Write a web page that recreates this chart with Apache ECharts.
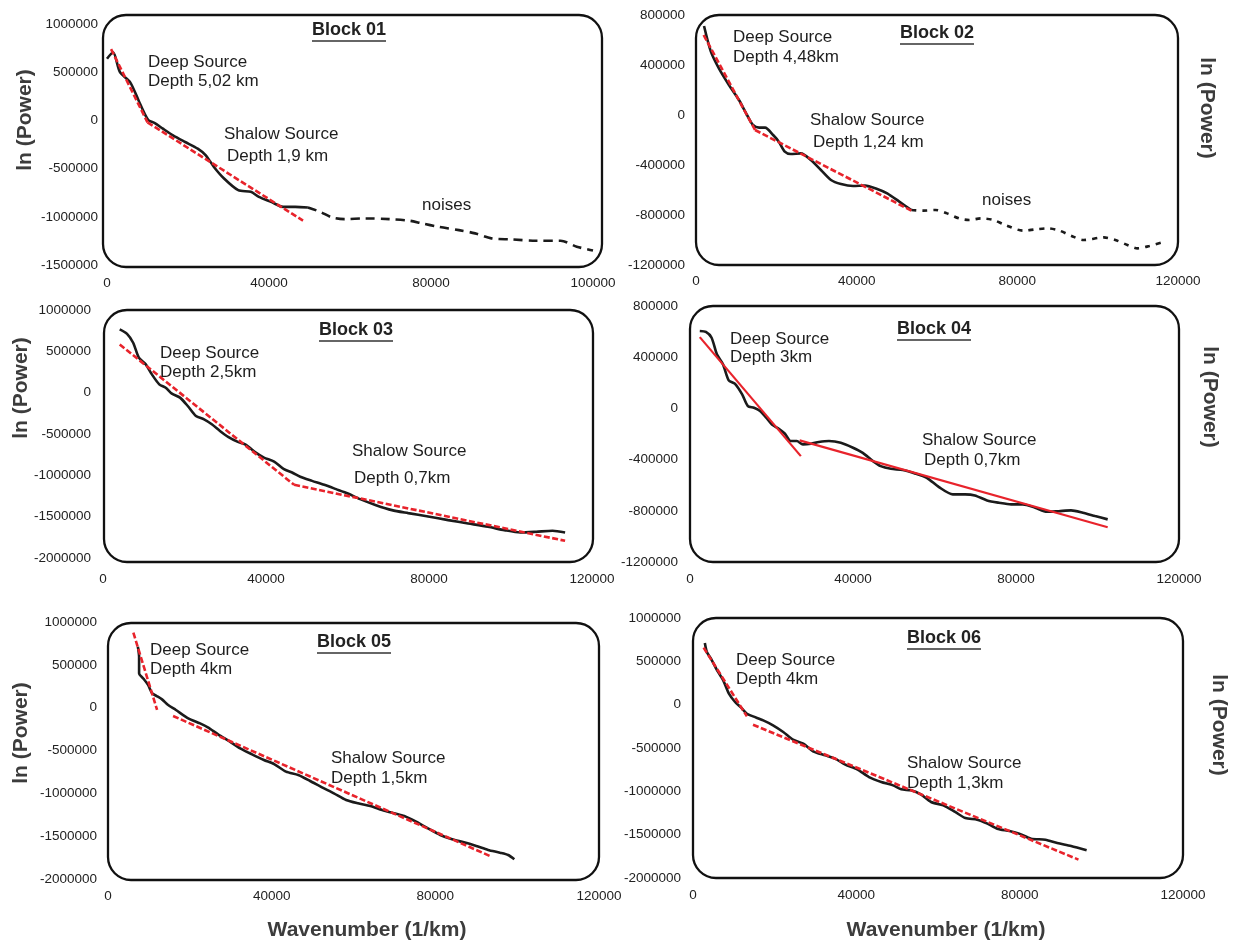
<!DOCTYPE html>
<html>
<head>
<meta charset="utf-8">
<script src="https://cdn.jsdelivr.net/npm/echarts@6/dist/echarts.min.js"></script>
<style>
  html, body { margin: 0; padding: 0; background: #fff; }
  #chart { width: 1233px; height: 942px; }
</style>
</head>
<body>
<div id="chart"></div>
<script>
// ---- Tick labels -------------------------------------------------------
const xTicks01 = ['0', '40000', '80000', '100000'];
const xTicksStd = ['0', '40000', '80000', '120000'];

// ---- Block 01 ----------------------------------------------------------
const b01Spectrum = [[0,640000],[1500,707000],[3200,500000],[5700,397000],[7800,207000],[9300,69000],[10300,0],[11800,-28000],[13800,-86000],[16300,-155000],[19300,-224000],[22400,-293000],[24400,-362000],[26400,-483000],[28900,-603000],[32400,-724000],[35500,-741000],[37500,-793000],[40500,-845000],[43500,-897000],[46500,-897000],[49600,-903000]];
const b01Noise = [[49600,-903000],[52600,-948000],[55600,-1007000],[58600,-1024000],[63700,-1017000],[69700,-1024000],[74800,-1041000],[77800,-1069000],[81800,-1103000],[86900,-1138000],[90900,-1172000],[94900,-1224000],[99900,-1234000],[106000,-1248000],[112000,-1248000],[116000,-1310000],[120000,-1350000]];
const b01Deep = [[1000,740000],[10000,-20000]];
const b01Shallow = [[10000,-20000],[48400,-1040000]];

// ---- Block 02 ----------------------------------------------------------
const b02Spectrum = [[2000,712000],[3700,507000],[5700,373000],[8200,240000],[10700,120000],[12700,0],[14200,-80000],[15700,-101000],[17200,-101000],[19200,-160000],[20600,-213000],[22100,-293000],[23600,-312000],[26100,-307000],[28600,-360000],[31100,-440000],[33600,-520000],[36100,-552000],[39100,-568000],[42100,-565000],[45100,-592000],[47600,-627000],[50600,-693000],[53600,-760000]];
const b02Noise = [[53600,-760000],[56600,-765000],[59600,-760000],[62500,-787000],[65500,-827000],[68000,-840000],[71000,-827000],[74000,-840000],[77000,-880000],[81500,-925000],[84500,-915000],[87500,-907000],[90500,-925000],[93500,-968000],[96500,-1000000],[101500,-979000],[104400,-1000000],[107400,-1040000],[109900,-1067000],[112900,-1048000],[115900,-1021000]];
const b02Deep = [[1900,640000],[14700,-120000]];
const b02Shallow = [[14700,-120000],[53600,-765000]];

// ---- Block 03 ----------------------------------------------------------
const b03Spectrum = [[4100,765000],[5900,712000],[7400,604000],[8800,423000],[10500,342000],[12000,221000],[13800,101000],[15400,60000],[16900,-12000],[18900,-60000],[20800,-161000],[22800,-282000],[24800,-322000],[26700,-382000],[28700,-463000],[30700,-535000],[33100,-596000],[35100,-632000],[37500,-725000],[39500,-785000],[42000,-833000],[44400,-926000],[46400,-966000],[48400,-1018000],[51300,-1067000],[54300,-1115000],[57200,-1167000],[60100,-1220000],[63100,-1288000],[67000,-1361000],[70900,-1421000],[74900,-1457000],[79800,-1498000],[84700,-1542000],[89600,-1582000],[94500,-1622000],[98500,-1663000],[102400,-1691000],[106300,-1683000],[110300,-1671000],[113400,-1691000]];
const b03Deep = [[4100,584000],[46900,-1115000]];
const b03Shallow = [[46900,-1115000],[113400,-1792000]];

// ---- Block 04 ----------------------------------------------------------
const b04Spectrum = [[2400,605000],[3900,597000],[5300,552000],[6600,422000],[8100,344000],[9500,219000],[11000,193000],[12800,109000],[14200,18000],[15700,5000],[17200,-21000],[18700,-73000],[20100,-125000],[21800,-159000],[23300,-198000],[24700,-255000],[26200,-255000],[27700,-281000],[29700,-276000],[31600,-263000],[34100,-255000],[37000,-268000],[40000,-307000],[42400,-347000],[44900,-412000],[46800,-451000],[49300,-472000],[52200,-482000],[55200,-508000],[58100,-542000],[61100,-615000],[64500,-672000],[67500,-672000],[69900,-680000],[72900,-719000],[75800,-737000],[78800,-750000],[81700,-750000],[84700,-776000],[87600,-808000],[90500,-803000],[93500,-797000],[96400,-815000],[99400,-841000],[102500,-867000]];
const b04Deep = [[2400,557000],[27200,-373000]];
const b04Shallow = [[26900,-250000],[102500,-928000]];

// ---- Block 05 ----------------------------------------------------------
const b05Spectrum = [[7300,712000],[7600,595000],[7600,401000],[8800,331000],[9800,265000],[10800,167000],[11900,136000],[13200,97000],[14700,31000],[16600,-27000],[19600,-125000],[22500,-183000],[24400,-230000],[26900,-311000],[29800,-397000],[32300,-475000],[35200,-545000],[38100,-611000],[40600,-658000],[43500,-747000],[46500,-786000],[49400,-856000],[52300,-930000],[55200,-1000000],[58200,-1078000],[61100,-1117000],[64100,-1148000],[67000,-1195000],[69900,-1233000],[72400,-1265000],[75300,-1331000],[78200,-1409000],[81200,-1486000],[84100,-1537000],[87000,-1572000],[90000,-1615000],[92900,-1661000],[95800,-1693000],[97800,-1720000],[99300,-1770000]];
const b05Deep = [[6200,875000],[12000,-27000]];
const b05Shallow = [[15900,-97000],[93700,-1739000]];

// ---- Block 06 ----------------------------------------------------------
const b06Spectrum = [[2900,712000],[3400,608000],[4400,531000],[5900,396000],[7400,281000],[8800,127000],[10300,31000],[11800,-35000],[13200,-104000],[14700,-135000],[17200,-181000],[19600,-238000],[22100,-315000],[24500,-404000],[27000,-450000],[29400,-538000],[32400,-585000],[34800,-623000],[37300,-692000],[40200,-746000],[43100,-835000],[46100,-892000],[49000,-931000],[51000,-977000],[53400,-988000],[55900,-1038000],[58300,-1123000],[61300,-1162000],[64200,-1238000],[66700,-1308000],[69600,-1327000],[72100,-1373000],[74500,-1431000],[77500,-1458000],[79900,-1488000],[82800,-1546000],[86300,-1558000],[89200,-1596000],[92600,-1631000],[96400,-1681000]];
const b06Deep = [[2600,658000],[13200,-135000]];
const b06Shallow = [[14700,-231000],[94400,-1788000]];

// ---- Texts ------------------------------------------------------------
const blockTitles = ['Block 01', 'Block 02', 'Block 03', 'Block 04', 'Block 05', 'Block 06'];
const deepTexts = [
  ['Deep Source', 'Depth 5,02 km'], ['Deep Source', 'Depth 4,48km'], ['Deep Source', 'Depth 2,5km'],
  ['Deep Source', 'Depth 3km'], ['Deep Source', 'Depth 4km'], ['Deep Source', 'Depth 4km']
];
const shallowTexts = [
  ['Shalow Source', 'Depth 1,9 km'], ['Shalow Source', 'Depth 1,24 km'], ['Shalow Source', 'Depth 0,7km'],
  ['Shalow Source', 'Depth 0,7km'], ['Shalow Source', 'Depth 1,5km'], ['Shalow Source', 'Depth 1,3km']
];
const noiseText = 'noises';
const yTitle = 'ln (Power)';
const xTitle = 'Wavenumber (1/km)';

// ---- Layout & style ---------------------------------------------------
const FONT = '"Liberation Sans", Arial, Helvetica, sans-serif';
const BLACK = '#1b1b1b';
const RED = '#e8232b';
const FIT_DASH = [6, 2.5];

const panels = [
  { grid: {left:107, top:24,  width:486, height:241}, box: [103,15,499,252],  y: [-1500000,1000000,500000], xt: xTicks01, xm: 11, ym: 9,
    title: [349,30], deep: [148,62,81],  shallow: [[224,134],[227,156]], noise: [422,205],
    spectrum: b01Spectrum, noiseData: b01Noise, noiseDash: [9,6], deepFit: b01Deep, shallowFit: b01Shallow, fitDash: FIT_DASH },
  { grid: {left:696, top:15,  width:482, height:250}, box: [696,15,482,250],  y: [-1200000,800000,400000], xt: xTicksStd, xm: 9, ym: 11,
    title: [937,33], deep: [733,37,57],  shallow: [[810,120],[813,142]], noise: [982,200],
    spectrum: b02Spectrum, noiseData: b02Noise, noiseDash: [5,6], deepFit: b02Deep, shallowFit: b02Shallow, fitDash: FIT_DASH },
  { grid: {left:103, top:310, width:489, height:248}, box: [104,310,489,252], y: [-2000000,1000000,500000], xt: xTicksStd, xm: 14, ym: 12,
    title: [356,330], deep: [160,353,372], shallow: [[352,451],[354,478]],
    spectrum: b03Spectrum, deepFit: b03Deep, shallowFit: b03Shallow, fitDash: FIT_DASH },
  { grid: {left:690, top:306, width:489, height:256}, box: [690,306,489,256], y: [-1200000,800000,400000], xt: xTicksStd, xm: 10, ym: 12,
    title: [934,329], deep: [730,339,357], shallow: [[922,440],[924,460]],
    spectrum: b04Spectrum, deepFit: b04Deep, shallowFit: b04Shallow, fitDash: 'solid' },
  { grid: {left:108, top:622, width:491, height:257}, box: [108,623,491,257], y: [-2000000,1000000,500000], xt: xTicksStd, xm: 10, ym: 11,
    title: [354,642], deep: [150,650,669], shallow: [[331,758],[331,778]],
    spectrum: b05Spectrum, deepFit: b05Deep, shallowFit: b05Shallow, fitDash: FIT_DASH },
  { grid: {left:693, top:618, width:490, height:260}, box: [693,618,490,260], y: [-2000000,1000000,500000], xt: xTicksStd, xm: 10, ym: 12,
    title: [944,638], deep: [736,660,679], shallow: [[907,763],[907,783]],
    spectrum: b06Spectrum, deepFit: b06Deep, shallowFit: b06Shallow, fitDash: FIT_DASH }
];

const axisTitlePos = {
  left:  [[25,120],[21,388],[21,733]],
  right: [[1207,108],[1210,397],[1219,725]],
  bottom:[[367,930],[946,930]]
};

// ---- Build option -----------------------------------------------------
const measureCtx = document.createElement('canvas').getContext('2d');
function textWidth(txt, font) { measureCtx.font = font; return measureCtx.measureText(txt).width; }

const grids = [], xAxes = [], yAxes = [], series = [], graphics = [];

panels.forEach((p, i) => {
  grids.push(Object.assign({ containLabel: false }, p.grid));
  xAxes.push({
    type: 'value', gridIndex: i, min: 0, max: 120000, interval: 40000,
    axisLine: { show: false }, axisTick: { show: false }, splitLine: { show: false },
    axisLabel: { margin: p.xm, color: '#222', fontSize: 13.5, fontFamily: FONT,
      formatter: (v) => p.xt[Math.round(v / 40000)] }
  });
  yAxes.push({
    type: 'value', gridIndex: i, min: p.y[0], max: p.y[1], interval: p.y[2],
    axisLine: { show: false }, axisTick: { show: false }, splitLine: { show: false },
    axisLabel: { margin: p.ym, color: '#222', fontSize: 13.5, fontFamily: FONT,
      formatter: (v) => String(v) }
  });

  const base = { type: 'line', xAxisIndex: i, yAxisIndex: i, symbol: 'none', animation: false, silent: true };
  series.push(Object.assign({}, base, {
    data: p.spectrum, smooth: 0.25, z: 3,
    lineStyle: { color: BLACK, width: 2.6 }
  }));
  if (p.noiseData) {
    series.push(Object.assign({}, base, {
      data: p.noiseData, smooth: 0.3, z: 3,
      lineStyle: { color: BLACK, width: 2.6, type: p.noiseDash }
    }));
  }
  [p.deepFit, p.shallowFit].forEach(fit => {
    series.push(Object.assign({}, base, {
      data: fit, z: 4,
      lineStyle: { color: RED, width: p.fitDash === 'solid' ? 2.2 : 2.6, type: p.fitDash }
    }));
  });

  // rounded frame
  graphics.push({
    type: 'rect', silent: true, z: 1,
    shape: { x: p.box[0], y: p.box[1], width: p.box[2], height: p.box[3], r: 23 },
    style: { fill: 'none', stroke: '#111', lineWidth: 2.3 }
  });

  // block title with underline
  const tFont = 'bold 18px ' + FONT;
  const tw = textWidth(blockTitles[i], tFont);
  graphics.push({
    type: 'text', silent: true, z: 10, x: p.title[0], y: p.title[1],
    style: { text: blockTitles[i], font: tFont, fill: '#222', align: 'center', verticalAlign: 'middle' }
  });
  graphics.push({
    type: 'line', silent: true, z: 10,
    shape: { x1: p.title[0] - tw / 2, y1: p.title[1] + 11, x2: p.title[0] + tw / 2, y2: p.title[1] + 11 },
    style: { stroke: '#333', lineWidth: 1.4 }
  });

  // annotations
  const aFont = '17px ' + FONT;
  const addText = (txt, x, y) => graphics.push({
    type: 'text', silent: true, z: 10, x: x, y: y,
    style: { text: txt, font: aFont, fill: '#1e1e1e', align: 'left', verticalAlign: 'middle' }
  });
  addText(deepTexts[i][0], p.deep[0], p.deep[1]);
  addText(deepTexts[i][1], p.deep[0], p.deep[2]);
  addText(shallowTexts[i][0], p.shallow[0][0], p.shallow[0][1]);
  addText(shallowTexts[i][1], p.shallow[1][0], p.shallow[1][1]);
  if (p.noise) addText(noiseText, p.noise[0], p.noise[1]);
});

// axis titles
const axFont = 'bold 21px ' + FONT;
axisTitlePos.left.forEach(([x, y]) => graphics.push({
  type: 'text', silent: true, x: x, y: y, rotation: Math.PI / 2,
  style: { text: yTitle, font: axFont, fill: '#3c3c3c', align: 'center', verticalAlign: 'middle' }
}));
axisTitlePos.right.forEach(([x, y]) => graphics.push({
  type: 'text', silent: true, x: x, y: y, rotation: -Math.PI / 2,
  style: { text: yTitle, font: axFont, fill: '#3c3c3c', align: 'center', verticalAlign: 'middle' }
}));
axisTitlePos.bottom.forEach(([x, y]) => graphics.push({
  type: 'text', silent: true, x: x, y: y,
  style: { text: xTitle, font: axFont, fill: '#3c3c3c', align: 'center', verticalAlign: 'middle' }
}));

const chart = echarts.init(document.getElementById('chart'), null, { renderer: 'canvas' });
chart.setOption({
  backgroundColor: '#fff',
  animation: false,
  grid: grids,
  xAxis: xAxes,
  yAxis: yAxes,
  series: series,
  graphic: { elements: graphics }
});
</script>
</body>
</html>
